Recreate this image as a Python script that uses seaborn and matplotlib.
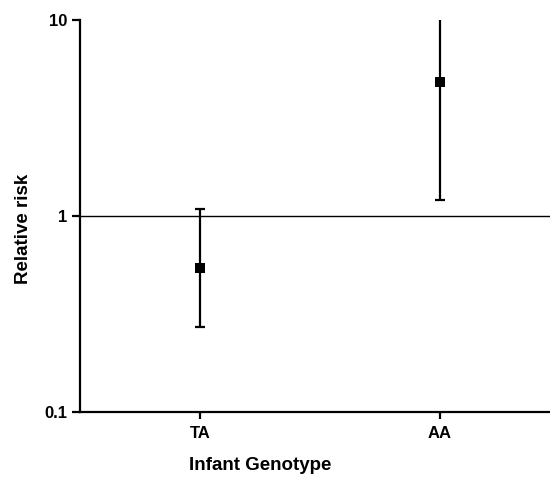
import matplotlib
matplotlib.use("Agg")
import matplotlib.pyplot as plt
import matplotlib.ticker as mticker
import numpy as np
import pandas as pd
import seaborn as sns

# Relative risk by infant genotype with 95% confidence intervals
genotypes = ["TA", "AA"]
rr = [0.54, 4.8]
ci_low = [0.27, 1.21]
ci_high = [1.08, 11.0]

ytick_vals = [0.1, 1, 10]
ytick_labels = ["0.1", "1", "10"]

sns.set_style("white")
plt.rcParams["font.family"] = ["Liberation Sans", "DejaVu Sans"]
plt.rcParams["text.color"] = "black"
plt.rcParams["axes.labelcolor"] = "black"
plt.rcParams["xtick.color"] = "black"
plt.rcParams["ytick.color"] = "black"

df = pd.DataFrame({"genotype": genotypes, "rr": rr, "lo": ci_low, "hi": ci_high})

fig = plt.figure(figsize=(5.5, 4.8), dpi=100)
ax = fig.add_axes([80 / 550, 68 / 480, 470 / 550, 392 / 480])

# Reference line at no effect
ax.axhline(1, color="black", lw=1.0, zorder=1)

# Confidence interval whiskers
x_pos = np.arange(len(genotypes))
ax.errorbar(x_pos, df["rr"], yerr=[df["rr"] - df["lo"], df["hi"] - df["rr"]],
            fmt="none", ecolor="black", elinewidth=1.6, capsize=3.6, capthick=1.6,
            zorder=2)

# Point estimates
sns.scatterplot(data=df, x="genotype", y="rr", marker="s", s=42, color="black",
                edgecolor="black", linewidth=0, ax=ax, zorder=3)

ax.set_yscale("log")
ax.set_ylim(0.1, 10)
ax.set_xlim(-0.5, 1.458)
ax.yaxis.set_major_locator(mticker.FixedLocator(ytick_vals))
ax.yaxis.set_major_formatter(mticker.FixedFormatter(ytick_labels))
ax.yaxis.set_minor_locator(mticker.NullLocator())
ax.set_xticks(x_pos)
ax.set_xticklabels(genotypes)

for side in ["top", "right"]:
    ax.spines[side].set_visible(False)
for side in ["left", "bottom"]:
    ax.spines[side].set_linewidth(1.6)
    ax.spines[side].set_color("black")

ax.tick_params(axis="y", which="major", direction="out", length=5.8, width=1.6,
               labelsize=12, pad=3.5, left=True, colors="black")
ax.tick_params(axis="x", which="major", direction="out", length=5, width=1.6,
               labelsize=12, pad=5, bottom=True, colors="black")
for lbl in ax.get_xticklabels() + ax.get_yticklabels():
    lbl.set_fontweight("bold")

ax.set_xlabel("Infant Genotype", fontsize=13.5, fontweight="bold")
ax.set_ylabel("Relative risk", fontsize=13.5, fontweight="bold")
ax.xaxis.set_label_coords(0.383, -0.115)
ax.yaxis.set_label_coords(-0.102, 0.467)

fig.savefig("out.png", dpi=100)
